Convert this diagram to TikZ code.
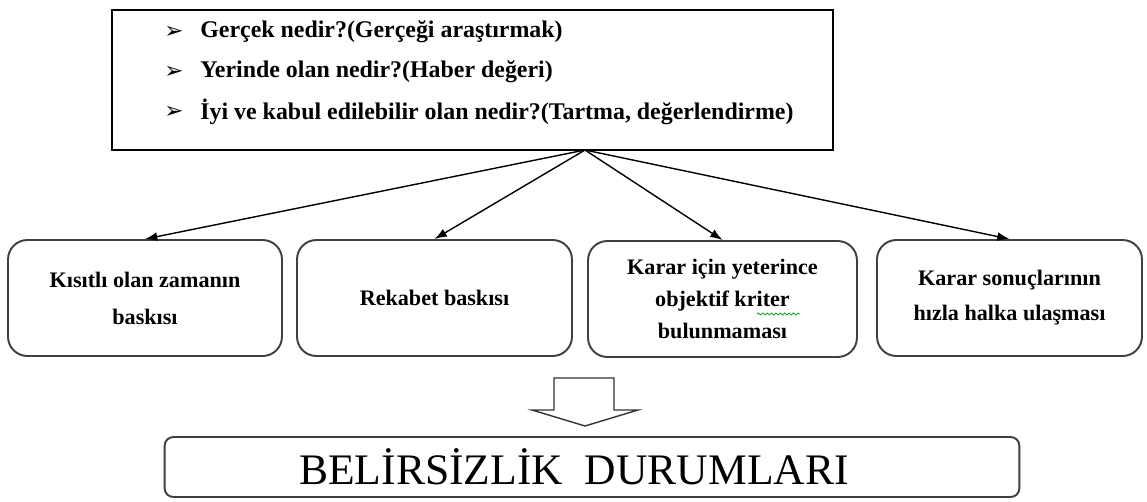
\documentclass[tikz,border=0pt]{standalone}
\usepackage{fontspec}
\setmainfont{Liberation Serif}
\newfontfamily\dejavu{DejaVu Sans}
\usetikzlibrary{arrows.meta,decorations.pathmorphing}
\tikzset{
  topbox/.style={draw=black, line width=1.2pt, minimum width=14.44cm, minimum height=2.8cm, inner sep=0pt},
  item/.style={anchor=west, inner sep=0pt, font=\bfseries\fontsize{13.6}{16}\selectfont},
  bullet/.style={anchor=west, inner sep=0pt, font=\dejavu\bfseries\fontsize{13}{14}\selectfont},
  cbox/.style={draw=black!75, line width=1.1pt, rounded corners=11pt, minimum height=2.32cm, align=center, inner sep=0pt},
  conn/.style={line width=0.8pt, -{Latex[length=7pt,width=5pt]}},
  bigbox/.style={draw=black!75, line width=1.1pt, rounded corners=5pt, minimum width=17.1cm, minimum height=1.2cm, inner sep=0pt},
  bigtext/.style={inner sep=0pt, font=\fontsize{24.8}{28}\selectfont},
}
\begin{document}
\begin{tikzpicture}[x=0.02cm,y=-0.02cm]
\useasboundingbox (0,0) rectangle (1147,501);
\node[topbox] (top) at (472.5,80) {};
\node[bullet] (b1) at (164,32) {➢};
\node[bullet] (b2) at (164,72) {➢};
\node[bullet] (b3) at (164,112) {➢};
\node[item] (t1) at (200,32) {Gerçek nedir?(Gerçeği araştırmak)};
\node[item] (t2) at (200,72) {Yerinde olan nedir?(Haber değeri)};
\node[item] (t3) at (200,112) {İyi ve kabul edilebilir olan nedir?(Tartma, değerlendirme)};
\coordinate (hub) at (585,150);

\node[cbox, minimum width=5.48cm, font=\bfseries\fontsize{12.6}{21}\selectfont] (k1) at (145,298) {Kısıtlı olan zamanın\\baskısı};
\node[cbox, minimum width=5.5cm, font=\bfseries\fontsize{12.6}{21}\selectfont] (k2) at (434.5,298) {Rekabet baskısı};
\node[cbox, minimum width=5.38cm, font=\bfseries\fontsize{12.6}{18}\selectfont] (k3) at (722.5,299) {Karar için yeterince\\objektif kriter\\bulunmaması};
\node[cbox, minimum width=5.3cm, font=\bfseries\fontsize{12.6}{20}\selectfont] (k4) at (1009.5,298) {Karar sonuçlarının\\hızla halka ulaşması};

\draw[conn] (hub) -- (k1.north);
\draw[conn] (hub) -- (k2.north);
\draw[conn] (hub) -- (k3.north);
\draw[conn] (hub) -- (k4.north);

\draw[green!60!black, line width=0.4pt, decorate, decoration={snake, amplitude=0.6pt, segment length=2.5pt}] (757,314) -- (800,314);

\node[bigbox] (res) at (592,467) {};
\node[bigtext] (restext) at (574,467) {BELİRSİZLİK\ \ DURUMLARI};

\draw[line width=0.8pt, draw=black!80, fill=white] (554,378) -- (614,378) -- (614,410) -- (638,410) -- (585,426) -- (532,410) -- (554,410) -- cycle;
\end{tikzpicture}
\end{document}
